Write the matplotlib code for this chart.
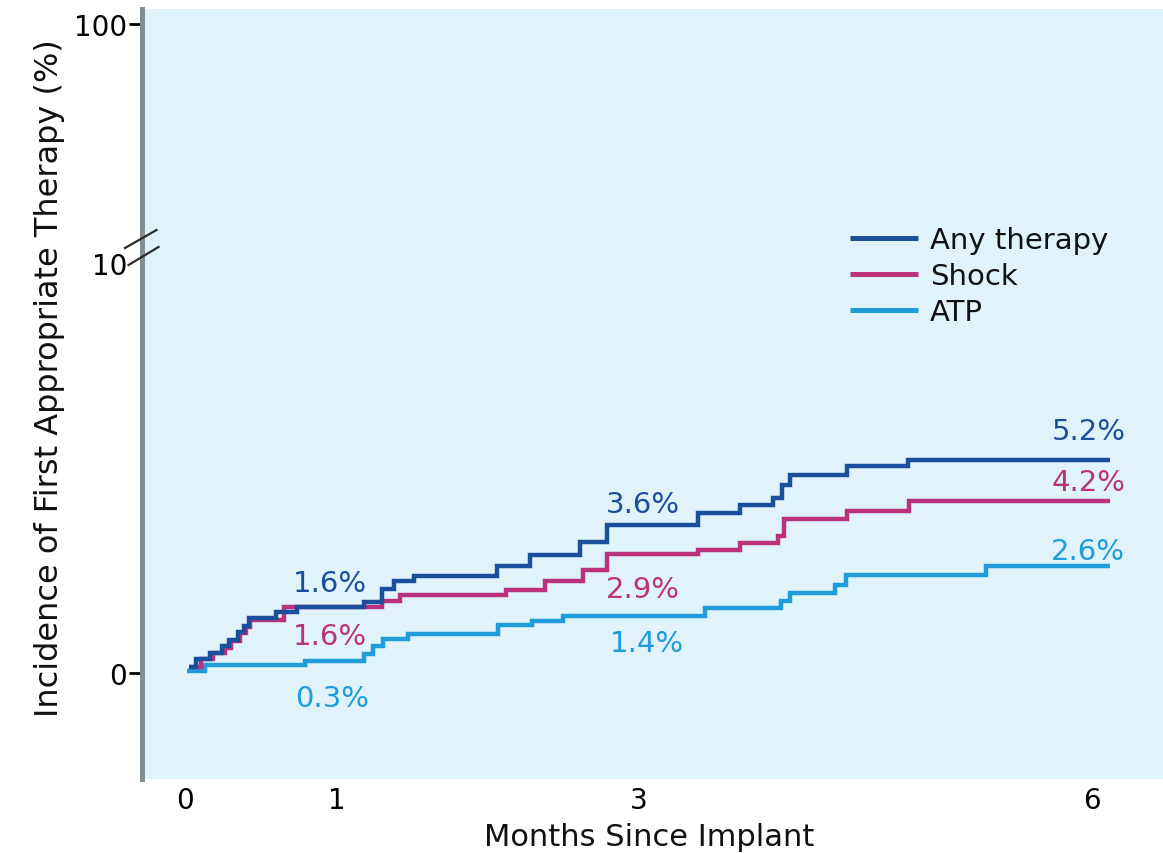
import numpy as np
import matplotlib
matplotlib.use("Agg")
import matplotlib.pyplot as plt
from matplotlib.lines import Line2D

# Cumulative incidence (%) by months since implant, step changes (post)
months_any = [0.02, 0.07, 0.16, 0.24, 0.29, 0.35, 0.39, 0.42, 0.60, 0.74, 1.18, 1.30,
              1.38, 1.51, 2.06, 2.28, 2.61, 2.79, 3.39, 3.67, 3.89, 3.95, 4.00, 4.38,
              4.78, 6.12]
any_vals = [0.15, 0.35, 0.50, 0.65, 0.80, 1.00, 1.15, 1.35, 1.50, 1.60, 1.72, 2.05,
            2.24, 2.36, 2.60, 2.89, 3.20, 3.60, 3.90, 4.10, 4.27, 4.58, 4.82, 5.06,
            5.20, 5.20]

months_shock = [0.02, 0.10, 0.185, 0.26, 0.30, 0.36, 0.40, 0.43, 0.65, 1.30, 1.42,
                2.12, 2.38, 2.63, 2.79, 3.39, 3.67, 3.92, 3.96, 4.38, 4.79, 6.12]
shock_vals = [0.15, 0.35, 0.50, 0.62, 0.78, 0.98, 1.12, 1.30, 1.60, 1.75, 1.90,
              2.02, 2.24, 2.51, 2.90, 3.01, 3.16, 3.35, 3.76, 3.95, 4.20, 4.20]

months_atp = [0.01, 0.13, 0.79, 1.18, 1.24, 1.31, 1.47, 2.07, 2.29, 2.50, 3.44, 3.94,
              4.00, 4.30, 4.37, 5.30, 6.12]
atp_vals = [0.05, 0.20, 0.30, 0.46, 0.67, 0.82, 0.94, 1.16, 1.28, 1.40, 1.59, 1.76,
            1.95, 2.14, 2.40, 2.60, 2.60]

series_names = ["Any therapy", "Shock", "ATP"]
label_months = [1, 3, 6]
x_ticks = [0, 1, 3, 6]
y_ticks = [0, 10, 100]

colors = ["#1b4f9c", "#bb327c", "#1e9cdc"]
bg = "#e1f3fa"

# Piecewise y-scale: linear up to 10 %, compressed from 10 to 100 %
K = (239 / 90) / 41.0


def fwd(v):
    v = np.asarray(v, dtype=float)
    return np.where(v <= 10, v, 10 + (v - 10) * K)


def inv(u):
    u = np.asarray(u, dtype=float)
    return np.where(u <= 10, u, 10 + (u - 10) / K)


def value_at(months, vals, m):
    idx = np.searchsorted(months, m, side="right") - 1
    return vals[idx]


W, H = 1163, 854
fig = plt.figure(figsize=(W / 100, H / 100), dpi=100)
ax = fig.add_axes([141.5 / W, 1 - 780 / H, (W - 141.5) / W, 770 / H])
ax.set_facecolor(bg)

ax.set_yscale("function", functions=(fwd, inv))
ax.set_xlim(-0.291, 6.468)
ax.set_ylim(-2.585, 105.65)

data = [(months_any, any_vals), (months_shock, shock_vals), (months_atp, atp_vals)]
# ATP first, any therapy drawn on top
for (m, v), name, c, z in zip(data, series_names, colors, [4, 3, 2]):
    ax.step(m, v, where="post", color=c, lw=3.2, label=name, zorder=z,
            solid_joinstyle="miter", solid_capstyle="butt")

# Spines and ticks
for s in ["top", "right", "bottom"]:
    ax.spines[s].set_visible(False)
ax.spines["left"].set_color("#838d92")
ax.spines["left"].set_linewidth(3.6)

ax.set_xticks(x_ticks)
ax.set_xticklabels([str(t) for t in x_ticks])
ax.set_yticks(y_ticks)
ax.set_yticklabels([str(t) for t in y_ticks])
ax.minorticks_off()
ax.tick_params(axis="x", length=0, pad=5, labelsize=20, colors="black")
ax.tick_params(axis="y", length=9.5, width=2, pad=1, labelsize=20, colors="black")
ax.yaxis.get_major_ticks()[1].tick1line.set_visible(False)

ax.set_xlabel("Months Since Implant", fontsize=22, color="#111111")
ax.xaxis.label.set_va("baseline")
ax.xaxis.set_label_coords((649 - 141.5) / (W - 141.5), (780 - 846) / 770)
ax.set_ylabel("Incidence of First Appropriate Therapy (%)", fontsize=23,
              color="#111111")
ax.yaxis.label.set_va("center")
ax.yaxis.set_label_coords((50 - 141.5) / (W - 141.5), (780 - 378.5) / 770)

# Axis break marks at 10 %
x0 = ax.transAxes.transform((0, 0))[0]
y10 = ax.transData.transform((0, 10))[1]
to_fig = fig.transFigure.inverted()
for dx0, dy0, dx1, dy1 in [(-13, -2, 17, 16), (-16.5, 15, 15, 33)]:
    p0 = to_fig.transform((x0 + dx0, y10 + dy0))
    p1 = to_fig.transform((x0 + dx1, y10 + dy1))
    fig.add_artist(Line2D([p0[0], p1[0]], [p0[1], p1[1]], color="#2b2b2b", lw=1.6))

# Value labels at 1, 3 and 6 months
offsets = [
    [(-7, 16, "center"), (4, 13, "center"), (33, 21, "right")],
    [(-7, -37, "center"), (4, -43, "center"), (33, 11, "right")],
    [(-4, -45, "center"), (8, -35, "center"), (33, 7, "right")],
]
for (m, v), c, offs in zip(data, colors, offsets):
    for lm, (dx, dy, ha) in zip(label_months, offs):
        val = value_at(m, v, lm)
        ax.annotate(f"{val:.1f}%", xy=(lm, val), xytext=(dx, dy),
                    textcoords="offset pixels", ha=ha, va="baseline",
                    fontsize=21, color=c)

leg = ax.legend(loc="upper left", bbox_to_anchor=(850 / W, 1 - 227 / H),
                bbox_transform=fig.transFigure, frameon=False, fontsize=21,
                handlelength=2.33, handletextpad=0.41, labelspacing=0.27,
                borderpad=0, borderaxespad=0)
for line in leg.get_lines():
    line.set_linewidth(3.6)
for t in leg.get_texts():
    t.set_color("#111111")

fig.savefig("out.png", dpi=100)
